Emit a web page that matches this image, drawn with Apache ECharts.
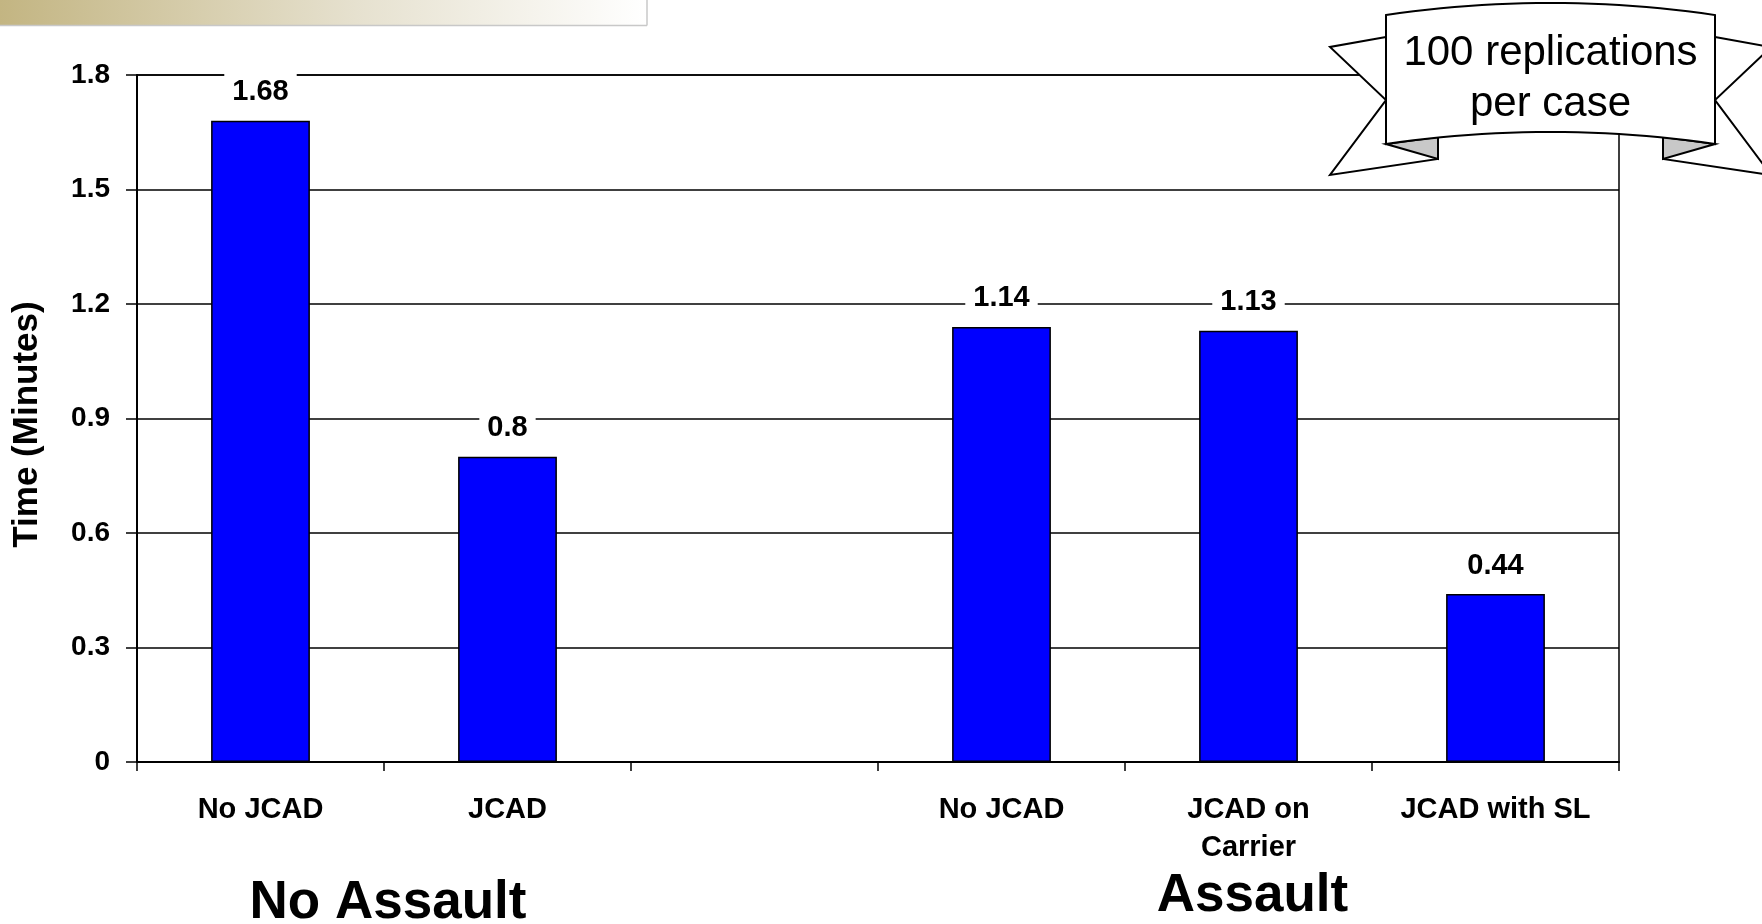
<!DOCTYPE html>
<html>
<head>
<meta charset="utf-8">
<script src="https://cdn.jsdelivr.net/npm/echarts@6/dist/echarts.min.js"></script>
<style>
  html, body { margin: 0; padding: 0; background: #ffffff; }
  #chart { width: 1762px; height: 924px; }
</style>
</head>
<body>
<div id="chart"></div>
<script>
// Mean time per case, in minutes (empty slot separates the two scenario groups)
const categories = ['No JCAD', 'JCAD', '', 'No JCAD', 'JCAD on\nCarrier', 'JCAD with SL'];
const timeMinutes = [1.68, 0.8, null, 1.14, 1.13, 0.44];

// Scenario groups drawn under the category labels
const groupNames = ['No Assault', 'Assault'];
const groupFirst = [0, 3];
const groupLast = [1, 5];

// Value axis
const yMin = 0;
const yMax = 1.8;
const yStep = 0.3;
const yTitle = 'Time (Minutes)';

// Ribbon note
const noteLines = ['100 replications', 'per case'];

const FONT = '"Liberation Sans", Arial, Helvetica, sans-serif';

const chart = echarts.init(document.getElementById('chart'), null, { renderer: 'canvas' });

chart.setOption({
  backgroundColor: '#ffffff',
  animation: false,
  grid: {
    left: 137, right: 143, top: 75, bottom: 162,
    containLabel: false,
    outerBoundsMode: 'none',
    show: true,
    borderColor: '#000000',
    borderWidth: 1.5,
    backgroundColor: 'transparent'
  },
  xAxis: {
    type: 'category',
    data: categories,
    boundaryGap: true,
    axisLine: { show: true, lineStyle: { color: '#000000', width: 2 } },
    axisTick: { show: true, interval: 0, length: 9, lineStyle: { color: '#000000', width: 1.5 } },
    axisLabel: {
      interval: 0,
      margin: 29,
      color: '#000000',
      fontFamily: FONT,
      fontWeight: 'bold',
      fontSize: 29,
      lineHeight: 38
    },
    splitLine: { show: false }
  },
  yAxis: {
    type: 'value',
    min: yMin,
    max: yMax,
    interval: yStep,
    name: yTitle,
    nameLocation: 'middle',
    nameRotate: 90,
    nameGap: 92,
    nameTextStyle: {
      color: '#000000', fontFamily: FONT, fontWeight: 'bold', fontSize: 35,
      padding: [0, 12, 0, 0]
    },
    axisLine: { show: true, lineStyle: { color: '#000000', width: 2 } },
    axisTick: { show: true, inside: false, length: 11, lineStyle: { color: '#000000', width: 1.5 } },
    axisLabel: {
      margin: 27,
      color: '#000000',
      fontFamily: FONT,
      fontWeight: 'bold',
      fontSize: 28
    },
    splitLine: { show: true, lineStyle: { color: '#000000', width: 1.5 } }
  },
  series: [{
    type: 'bar',
    data: timeMinutes,
    barWidth: '40%',
    itemStyle: { color: '#0000ff', borderColor: '#000000', borderWidth: 1.5 },
    label: {
      show: true,
      position: 'top',
      distance: 10,
      color: '#000000',
      fontFamily: FONT,
      fontWeight: 'bold',
      fontSize: 29,
      backgroundColor: '#ffffff',
      padding: [8, 8, 4, 8]
    },
    z: 3
  }]
});

// Group captions centred under their categories
const captions = groupNames.map(function (name, i) {
  const x0 = chart.convertToPixel({ xAxisIndex: 0 }, groupFirst[i]);
  const x1 = chart.convertToPixel({ xAxisIndex: 0 }, groupLast[i]);
  return {
    type: 'text',
    x: (x0 + x1) / 2 + 4,
    y: i === 0 ? 903 : 896,
    z: 50,
    style: {
      text: name,
      fill: '#000000',
      fontFamily: FONT,
      fontWeight: 'bold',
      fontSize: 53,
      align: 'center',
      verticalAlign: 'middle'
    }
  };
});

// Curved ribbon body: quadratic top and bottom edges
function ribbonBody(xl, xr, yTop, yTopCtrl, yBot, yBotCtrl, steps) {
  const pts = [];
  const xc = (xl + xr) / 2;
  for (let s = 0; s <= steps; s++) {
    const t = s / steps;
    const x = (1 - t) * (1 - t) * xl + 2 * t * (1 - t) * xc + t * t * xr;
    const y = (1 - t) * (1 - t) * yTop + 2 * t * (1 - t) * yTopCtrl + t * t * yTop;
    pts.push([x, y]);
  }
  for (let s = 0; s <= steps; s++) {
    const t = s / steps;
    const x = (1 - t) * (1 - t) * xr + 2 * t * (1 - t) * xc + t * t * xl;
    const y = (1 - t) * (1 - t) * yBot + 2 * t * (1 - t) * yBotCtrl + t * t * yBot;
    pts.push([x, y]);
  }
  return pts;
}

const ribbonStroke = { fill: '#ffffff', stroke: '#000000', lineWidth: 2, lineJoin: 'miter' };

const decorations = [
  // header strip
  {
    type: 'rect', z: 40,
    shape: { x: 0, y: 0, width: 647, height: 25 },
    style: {
      fill: new echarts.graphic.LinearGradient(0, 0, 1, 0, [
        { offset: 0, color: '#c3b582' },
        { offset: 0.55, color: '#e6e1cf' },
        { offset: 1, color: '#ffffff' }
      ]),
      stroke: null
    }
  },
  { type: 'line', z: 41, shape: { x1: 0, y1: 25.5, x2: 647, y2: 25.5 }, style: { stroke: '#c8c8c8', lineWidth: 1.5 } },
  { type: 'line', z: 41, shape: { x1: 647, y1: 0, x2: 647, y2: 25.5 }, style: { stroke: '#c8c8c8', lineWidth: 1.5 } },

  // ribbon tails
  { type: 'polygon', z: 60, shape: { points: [[1386, 37], [1330, 47], [1386, 100], [1330, 175], [1438, 159], [1438, 139], [1386, 144]] }, style: ribbonStroke },
  { type: 'polygon', z: 60, shape: { points: [[1715, 37], [1771, 47], [1715, 100], [1771, 175], [1663, 159], [1663, 139], [1715, 144]] }, style: ribbonStroke },
  // ribbon folds
  { type: 'polygon', z: 61, shape: { points: [[1386, 144], [1438, 137], [1438, 159]] }, style: { fill: '#c8c8c8', stroke: '#000000', lineWidth: 2 } },
  { type: 'polygon', z: 61, shape: { points: [[1715, 144], [1663, 137], [1663, 159]] }, style: { fill: '#c8c8c8', stroke: '#000000', lineWidth: 2 } },
  // ribbon body
  { type: 'polygon', z: 62, shape: { points: ribbonBody(1386, 1715, 15, -9, 144, 120, 24) }, style: ribbonStroke },
  {
    type: 'text', z: 63, x: 1550.5, y: 79,
    style: {
      text: noteLines.join('\n'),
      fill: '#000000',
      fontFamily: FONT,
      fontSize: 42,
      lineHeight: 51,
      align: 'center',
      verticalAlign: 'middle'
    }
  }
];

chart.setOption({ graphic: decorations.concat(captions) });
</script>
</body>
</html>
